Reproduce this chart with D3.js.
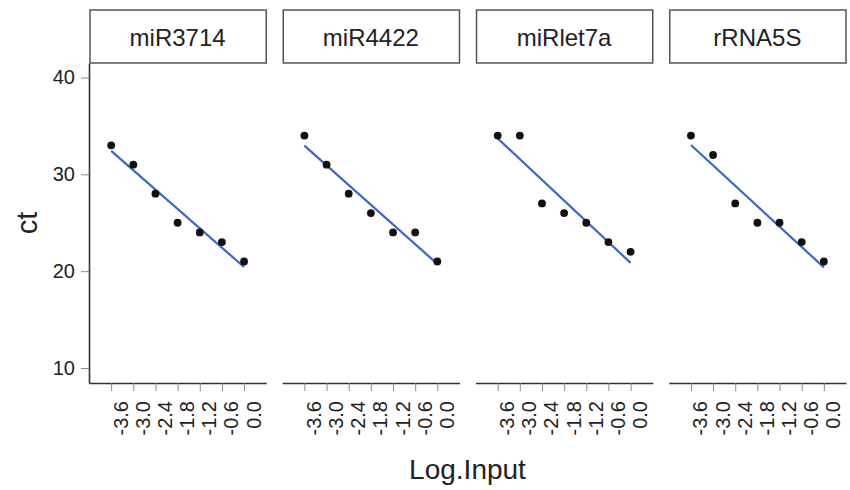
<!DOCTYPE html>
<html>
<head>
<meta charset="utf-8">
<script src="https://cdn.jsdelivr.net/npm/d3@7"></script>
<style>
  body { margin: 0; background: #fff; }
  text { font-family: "Liberation Sans", Arial, sans-serif; fill: #222; }
</style>
</head>
<body>
<div id="chart"></div>
<script>
// facets and data
const genes = ["miR3714", "miR4422", "miRlet7a", "rRNA5S"];
const logInput = [-3.6, -3.0, -2.4, -1.8, -1.2, -0.6, 0.0];
const ctMiR3714 = [33, 31, 28, 25, 24, 23, 21];
const ctMiR4422 = [34, 31, 28, 26, 24, 24, 21];
const ctMiRlet7a = [34, 34, 27, 26, 25, 23, 22];
const ctRRNA5S = [34, 32, 27, 25, 25, 23, 21];
const yTicks = [10, 20, 30, 40];
const xTicks = [-3.6, -3.0, -2.4, -1.8, -1.2, -0.6, 0.0];

const ctByGene = {
  miR3714: ctMiR3714,
  miR4422: ctMiR4422,
  miRlet7a: ctMiRlet7a,
  rRNA5S: ctRRNA5S,
};

const W = 850, H = 490;
const plotTop = 63, plotBottom = 383;

// least squares fit, like geom_smooth(method = "lm", se = FALSE)
function fit(xs, ys) {
  const mx = d3.mean(xs), my = d3.mean(ys);
  let sxy = 0, sxx = 0;
  xs.forEach((x, i) => {
    sxy += (x - mx) * (ys[i] - my);
    sxx += (x - mx) * (x - mx);
  });
  const b = sxy / sxx;
  return (x) => my + b * (x - mx);
}

const svg = d3.select("#chart")
  .append("svg")
  .attr("width", W)
  .attr("height", H);

// panel positions
const panel = d3.scaleBand().domain(genes).range([89, 846]).paddingInner(0.083);
const bw = panel.bandwidth();

const x = d3.scaleLinear().domain([-4.2, 0.6]).range([0, bw]);
const y = d3.scaleLinear().domain([8.45, 41.5]).range([plotBottom, plotTop]);

// Y axis (first panel only)
const yAxis = svg.append("g")
  .attr("transform", `translate(${panel(genes[0])},0)`)
  .call(d3.axisLeft(y).tickValues(yTicks).tickSize(8).tickSizeOuter(0).tickPadding(6));
yAxis.select(".domain").attr("stroke", "#333").attr("stroke-width", 1.6);
yAxis.selectAll(".tick line").attr("stroke", "#888");
yAxis.selectAll(".tick text")
  .style("font-size", "20px")
  .attr("fill", "#222");

genes.forEach((g) => {
  const px = panel(g);
  const ys = ctByGene[g];
  const pts = logInput.map((v, i) => ({ x: v, y: ys[i] }));
  const f = fit(logInput, ys);

  const gp = svg.append("g").attr("transform", `translate(${px},0)`);

  // strip
  gp.append("rect")
    .attr("x", 1)
    .attr("y", 10)
    .attr("width", bw - 1)
    .attr("height", plotTop - 10)
    .attr("fill", "#fff")
    .attr("stroke", "#555")
    .attr("stroke-width", 1.5);
  gp.append("text")
    .attr("x", bw / 2)
    .attr("y", 46)
    .attr("text-anchor", "middle")
    .style("font-size", "24px")
    .text(g);

  // X axis
  const xa = gp.append("g")
    .attr("transform", `translate(0,${plotBottom})`)
    .call(d3.axisBottom(x).tickValues(xTicks).tickSize(8).tickSizeOuter(0)
      .tickFormat((d) => d.toFixed(1)));
  xa.select(".domain").attr("stroke", "#333").attr("stroke-width", 1.6);
  xa.selectAll(".tick line").attr("stroke", "#888");
  xa.selectAll(".tick text")
    .style("font-size", "20px")
    .attr("fill", "#222")
    .attr("text-anchor", "end")
    .attr("dy", null)
    .attr("y", null)
    .attr("transform", "translate(16,18) rotate(-90)");

  // regression line
  gp.append("line")
    .attr("x1", x(logInput[0]))
    .attr("y1", y(f(logInput[0])))
    .attr("x2", x(logInput[logInput.length - 1]))
    .attr("y2", y(f(logInput[logInput.length - 1])))
    .attr("stroke", "#3b67c9")
    .attr("stroke-width", 2.2);

  // points
  gp.selectAll("circle")
    .data(pts)
    .join("circle")
    .attr("cx", (d) => x(d.x))
    .attr("cy", (d) => y(d.y))
    .attr("r", 3.9)
    .attr("fill", "#111");
});

// axis titles
svg.append("text")
  .attr("transform", `translate(37,${(plotTop + plotBottom) / 2}) rotate(-90)`)
  .attr("text-anchor", "middle")
  .style("font-size", "29px")
  .text("ct");

svg.append("text")
  .attr("x", (89 + 846) / 2)
  .attr("y", 479)
  .attr("text-anchor", "middle")
  .style("font-size", "28px")
  .text("Log.Input");
</script>
</body>
</html>
